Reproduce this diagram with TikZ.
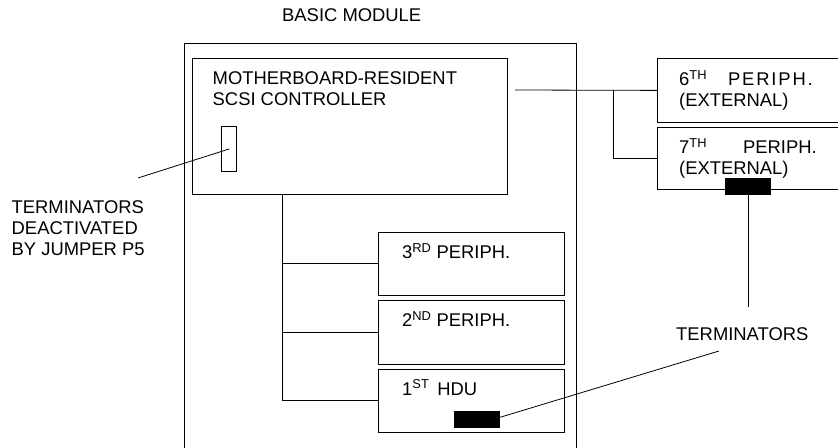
\documentclass[tikz,border=0pt]{standalone}
\usepackage{fontspec}
\setmainfont{Liberation Sans}
\usetikzlibrary{positioning,calc}

\begin{document}
\begin{tikzpicture}[x=1bp,y=-1bp,
 font=\fontsize{18.4bp}{21bp}\selectfont,
 wire/.style={line width=0.8bp},
 box/.style={draw,line width=0.8bp,inner sep=0pt,anchor=north west},
 periph/.style={box,minimum width=186bp,minimum height=63bp},
 extbox/.style={box,minimum width=185bp},
 term/.style={fill=black,inner sep=0pt,anchor=north west,minimum width=46bp,minimum height=17bp},
 txt/.style={inner sep=0pt,anchor=base west},
 multi/.style={inner sep=0pt,anchor=north west,align=left}]
\useasboundingbox (0,0) rectangle (838,448);
% basic module frame (open at the bottom)
\draw[wire] (184,448) -- (184,43) -- (576,43) -- (576,448);
\node[txt] (bm) at (282,21.6) {BASIC MODULE};
% controller with jumper-selected terminators
\node[box,minimum width=315bp,minimum height=136bp] (ctrl) at (192,58) {};
\node[multi] (ctrltxt) at (212.5,71.4) {MOTHERBOARD-RESIDENT\\SCSI CONTROLLER};
\node[box,minimum width=15bp,minimum height=45bp] (jmp) at (221,126) {};
\node[multi] (jmptxt) at (11.5,200.4) {TERMINATORS\\DEACTIVATED\\BY JUMPER P5};
\coordinate (jl) at (138,178);
\draw[wire] (jl) -- ([xshift=0.5bp]jmp.center);
% internal peripherals
\node[periph] (p3) at (378,232) {};
\node[periph,minimum height=64bp,below=4bp of p3] (p2) {};
\node[periph,below=4bp of p2] (p1) {};
\node[txt] (p3txt) at ($(p3.north west)+(24,26.6)$) {3\textsuperscript{RD} PERIPH.};
\node[txt] (p2txt) at ($(p2.north west)+(24,26.6)$) {2\textsuperscript{ND} PERIPH.};
\node[txt] (p1txt) at ($(p1.north west)+(24,26.6)$) {1\textsuperscript{ST}\hspace{8bp}HDU};
\node[term] (t1) at (454,411) {};
% internal bus
\coordinate (bus) at (282,194);
\draw[wire] (bus) |- (p1.west);
\draw[wire] (bus |- p3.west) -- (p3.west);
\draw[wire] (bus |- p2.west) -- (p2.west);
% external peripherals
\node[extbox,minimum height=64bp] (e6) at (657,58) {};
\node[extbox,minimum height=62bp] (e7) at (657,127) {};
\node[multi,anchor=base west] (e6txt) at (679,106.6) {6\textsuperscript{TH}\hspace{21bp}{\addfontfeature{LetterSpace=10}PERIPH.}\\(EXTERNAL)};
\node[multi,anchor=base west] (e7txt) at (679,174.6) {7\textsuperscript{TH}\hspace{36bp}PERIPH.\\(EXTERNAL)};
\node[term] (t7) at (725,178) {};
\coordinate (cr) at (515,90);
\coordinate (br) at (613,90);
\draw[wire] (cr) -- (e6.west);
\draw[wire] (br) |- (e7.west);
% terminators callout
\node[txt] (termtxt) at (676,340.6) {TERMINATORS};
\coordinate (tl) at (719,351);
\draw[wire] ([xshift=-5bp,yshift=1bp]t1.east) -- (tl);
\draw[wire] (t7.south) -- ++(0,112);
\end{tikzpicture}
\end{document}
